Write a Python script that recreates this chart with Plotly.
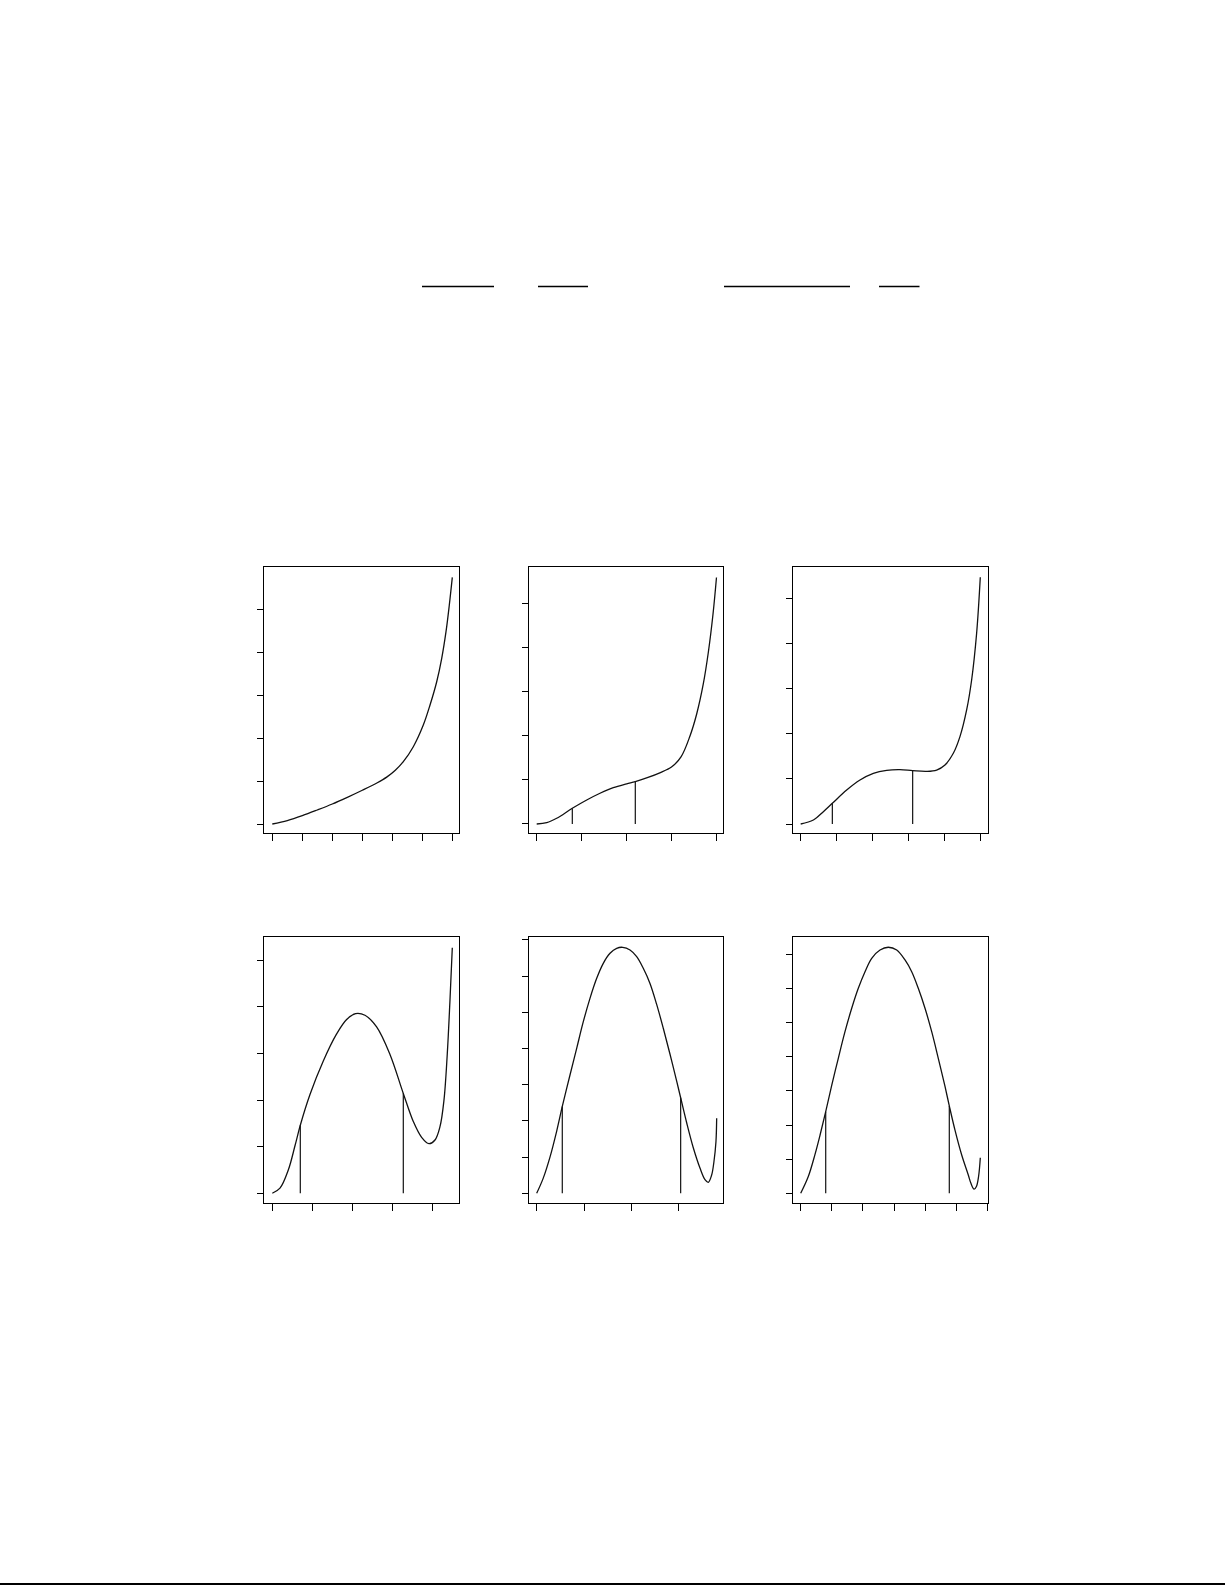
import plotly.graph_objects as go

W, H = 1225, 1585

# ---- curve data (x in tick units, y in tick units) ----
p1_x = [0, 0.5, 1.0, 1.5, 2.0, 2.5, 3.0, 3.5, 3.813, 4.1, 4.367, 4.70, 5.033, 5.257, 5.48, 5.647, 5.79, 5.9, 6.0]
p1_y = [0, 0.08, 0.194, 0.326, 0.465, 0.62, 0.785, 0.96, 1.09, 1.25, 1.449, 1.798, 2.302, 2.767, 3.309, 3.853, 4.472, 5.093, 5.736]
p1_vx, p1_vy = [], []

p2_x = [0, 0.223, 0.445, 0.793, 1.114, 1.410, 1.706, 2.004, 2.196, 2.479, 2.742, 3.002, 3.214, 3.414, 3.563, 3.710, 3.822, 3.927, 4.004]
p2_y = [0, 0.029, 0.129, 0.356, 0.544, 0.696, 0.823, 0.91, 0.96, 1.055, 1.16, 1.29, 1.52, 1.994, 2.492, 3.172, 3.885, 4.757, 5.585]
p2_vx, p2_vy = [0.793, 2.196], [0.356, 0.96]

p3_x = [0, 0.353, 0.631, 0.881, 1.280, 1.651, 2.022, 2.393, 2.764, 3.117, 3.506, 3.785, 4.017, 4.249, 4.434, 4.620, 4.759, 4.898, 5.0]
p3_y = [0, 0.089, 0.273, 0.458, 0.753, 0.975, 1.123, 1.189, 1.204, 1.182, 1.167, 1.196, 1.307, 1.566, 1.935, 2.526, 3.191, 4.225, 5.465]
p3_vx, p3_vy = [0.881, 3.117], [0.458, 1.182]

p4_x = [0, 0.192, 0.4, 0.567, 0.7, 0.942, 1.275, 1.608, 1.858, 2.083, 2.317, 2.608, 2.942, 3.275, 3.525, 3.733, 3.917, 4.067, 4.192, 4.292, 4.375, 4.442, 4.5]
p4_y = [0, 0.11, 0.50, 1.02, 1.46, 2.12, 2.84, 3.42, 3.73, 3.857, 3.821, 3.571, 2.98, 2.143, 1.54, 1.2, 1.064, 1.143, 1.429, 2.0, 3.0, 4.143, 5.271]
p4_vx, p4_vy = [0.7, 3.275], [1.46, 2.143]

p5_x = [0, 0.139, 0.281, 0.423, 0.541, 0.704, 0.845, 0.985, 1.126, 1.268, 1.407, 1.549, 1.690, 1.817, 1.972, 2.113, 2.252, 2.394, 2.535, 2.675, 2.816, 2.958, 3.042, 3.169, 3.309, 3.450, 3.556, 3.626, 3.697, 3.745, 3.788, 3.803]
p5_y = [0, 0.42, 1.0, 1.72, 2.40, 3.269, 4.007, 4.742, 5.388, 5.941, 6.355, 6.632, 6.770, 6.797, 6.723, 6.538, 6.217, 5.80, 5.22, 4.56, 3.85, 3.10, 2.64, 1.95, 1.26, 0.70, 0.38, 0.305, 0.506, 0.873, 1.426, 2.072]
p5_vx, p5_vy = [0.541, 3.042], [2.40, 2.64]

p6_x = [0, 0.244, 0.460, 0.621, 0.804, 0.997, 1.209, 1.424, 1.640, 1.852, 2.068, 2.283, 2.550, 2.817, 3.087, 3.354, 3.569, 3.781, 3.997, 4.212, 4.424, 4.640, 4.778, 4.961, 5.177, 5.389, 5.470, 5.575, 5.650, 5.720, 5.775]
p6_y = [0, 0.49, 1.14, 1.70, 2.39, 3.16, 3.954, 4.733, 5.419, 6.005, 6.491, 6.883, 7.127, 7.206, 7.127, 6.834, 6.491, 6.005, 5.419, 4.733, 3.954, 3.13, 2.56, 1.85, 1.122, 0.536, 0.30, 0.12, 0.20, 0.50, 1.043]
p6_vx, p6_vy = [0.804, 4.778], [2.39, 2.56]

# tick values per panel
p1_xt, p1_yt = list(range(7)), list(range(6))
p2_xt, p2_yt = list(range(5)), list(range(6))
p3_xt, p3_yt = list(range(6)), list(range(6))
p4_xt, p4_yt = list(range(5)), list(range(6))
p5_xt, p5_yt = list(range(4)), list(range(8))
p6_xt, p6_yt = list(range(7)), list(range(8))

panels = [
    dict(x=p1_x, y=p1_y, vx=p1_vx, vy=p1_vy, xt=p1_xt, yt=p1_yt,
         frame=(264.3, 459.3, 567.3, 833.3), xr=[-0.267, 6.233], yr=[-0.216, 5.970]),
    dict(x=p2_x, y=p2_y, vx=p2_vx, vy=p2_vy, xt=p2_xt, yt=p2_yt,
         frame=(529.3, 723.3, 567.3, 833.3), xr=[-0.165, 4.156], yr=[-0.211, 5.816]),
    dict(x=p3_x, y=p3_y, vx=p3_vx, vy=p3_vy, xt=p3_xt, yt=p3_yt,
         frame=(793.3, 988.3, 567.3, 833.3), xr=[-0.206, 5.223], yr=[-0.206, 5.687]),
    dict(x=p4_x, y=p4_y, vx=p4_vx, vy=p4_vy, xt=p4_xt, yt=p4_yt,
         frame=(264.3, 459.3, 937.3, 1203.3), xr=[-0.2, 4.675], yr=[-0.215, 5.494]),
    dict(x=p5_x, y=p5_y, vx=p5_vx, vy=p5_vy, xt=p5_xt, yt=p5_yt,
         frame=(529.3, 723.3, 937.3, 1203.3), xr=[-0.156, 3.943], yr=[-0.276, 7.074]),
    dict(x=p6_x, y=p6_y, vx=p6_vx, vy=p6_vy, xt=p6_xt, yt=p6_yt,
         frame=(793.3, 988.3, 937.3, 1203.3), xr=[-0.238, 6.032], yr=[-0.293, 7.498]),
]

fig = go.Figure()
layout = dict(width=W, height=H, margin=dict(l=0, r=0, t=0, b=0),
              paper_bgcolor="white", plot_bgcolor="white", showlegend=False)

for i, p in enumerate(panels, start=1):
    xa = "x" if i == 1 else f"x{i}"
    ya = "y" if i == 1 else f"y{i}"
    fig.add_trace(go.Scatter(x=p["x"], y=p["y"], mode="lines",
                             line=dict(color="#111111", width=1.3, shape="spline", smoothing=1.0),
                             xaxis=xa, yaxis=ya, hoverinfo="skip"))
    for vx, vy in zip(p["vx"], p["vy"]):
        fig.add_trace(go.Scatter(x=[vx, vx], y=[0, vy], mode="lines",
                                 line=dict(color="#111111", width=1.2),
                                 xaxis=xa, yaxis=ya, hoverinfo="skip"))
    l, r, t, b = p["frame"]
    common = dict(showgrid=False, zeroline=False, showline=True, mirror=True,
                  linecolor="black", linewidth=1.2, ticks="outside", ticklen=7,
                  tickwidth=1.2, tickcolor="black", showticklabels=False,
                  tickmode="array", fixedrange=True)
    layout["xaxis" if i == 1 else f"xaxis{i}"] = dict(
        common, domain=[l / W, r / W], range=p["xr"], tickvals=p["xt"],
        anchor=ya)
    layout["yaxis" if i == 1 else f"yaxis{i}"] = dict(
        common, domain=[1 - b / H, 1 - t / H], range=p["yr"], tickvals=p["yt"],
        anchor=xa, ticklen=6)

# decorative horizontal rules (fraction bars at top, page rule at bottom)
rule_segments = [(422.0, 494.0), (538.0, 588.0), (724.0, 850.0), (879.0, 919.5)]
shapes = []
for x0, x1 in rule_segments:
    shapes.append(dict(type="line", xref="paper", yref="paper",
                       x0=x0 / W, x1=x1 / W, y0=1 - 286.5 / H, y1=1 - 286.5 / H,
                       line=dict(color="black", width=1.3)))
shapes.append(dict(type="line", xref="paper", yref="paper",
                   x0=0, x1=1, y0=1 - 1584 / H, y1=1 - 1584 / H,
                   line=dict(color="black", width=2)))
layout["shapes"] = shapes

fig.update_layout(**layout)
fig.write_html("out.html", config={"displayModeBar": False},
               post_script="document.body.style.margin='0';document.body.style.padding='0';document.body.style.overflow='hidden';")
